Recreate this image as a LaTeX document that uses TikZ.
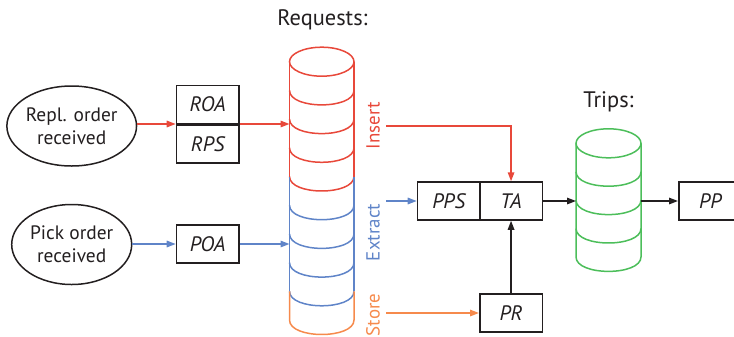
\documentclass[tikz,border=0pt]{standalone}
\usepackage{fontspec}
\setmainfont{PT Sans}
\usetikzlibrary{arrows.meta,shapes.geometric}
\definecolor{cred}{RGB}{232,72,58}
\definecolor{cblue}{RGB}{95,132,200}
\definecolor{corange}{RGB}{246,138,76}
\definecolor{cgreen}{RGB}{76,190,90}
\definecolor{ctext}{RGB}{35,31,32}
\tikzset{
  box/.style={draw=ctext,line width=1.5bp,minimum width=62.6bp,minimum height=38bp,inner sep=0pt,font=\fontsize{21}{22}\selectfont\itshape,text=ctext},
  event/.style={ellipse,draw=ctext,line width=1.5bp,minimum width=120bp,minimum height=80bp,inner sep=0pt,align=center,font=\fontsize{19.5}{23.5}\selectfont,text=ctext},
  conn/.style={line width=1.5bp,-{Triangle[length=9bp,width=6.5bp]}},
  cyl/.style={line width=1.5bp},
  lbl/.style={font=\fontsize{19}{20}\selectfont,rotate=90,inner sep=0pt},
  head/.style={font=\fontsize{22.5}{24}\selectfont,text=ctext,inner sep=0pt}
}
\begin{document}
\begin{tikzpicture}[x=1bp,y=-1bp]
\useasboundingbox (0,0) rectangle (734,336);
\clip (0,0) rectangle (734,336);
% events
\node[event] (repl) at (71.7,126) {Repl. order\\received};
\node[event] (pick) at (71.7,244.5) {Pick order\\received};
% boxes
\node[box,anchor=south west] (roa) at (175.7,124) {ROA};
\node[box,anchor=north west] (rps) at (175.7,124) {RPS};
\node[box,anchor=west] (poa) at (175.7,244) {POA};
\node[box,anchor=west] (pps) at (416.7,201) {PPS};
\node[box,anchor=west] (ta) at (479,201) {TA};
\node[box,anchor=west] (pr) at (479,313) {PR};
\node[box,anchor=west,minimum width=63bp] (pp) at (678,201) {PP};
% headings
\node[head] (reqh) at (322.5,20) {Requests:};
\node[head] (triph) at (608.5,102) {Trips:};
% Requests cylinder
\def\L{289.5}\def\R{354}\def\C{321.75}
\draw[cyl,cred] (\C,61.7) ellipse[x radius=32.25,y radius=14.5];
\draw[cyl,cred] (\L,61.7) -- (\L,176.5) (\R,61.7) -- (\R,176.5);
\foreach \y in {90.4,119.1,147.8,176.5}
  \draw[cyl,cred] (\L,\y) .. controls (\L,\y+19.3) and (\R,\y+19.3) .. (\R,\y);
\draw[cyl,cblue] (\L,176.5) -- (\L,291.3) (\R,176.5) -- (\R,291.3);
\foreach \y in {205.2,233.9,262.6,291.3}
  \draw[cyl,cblue] (\L,\y) .. controls (\L,\y+19.3) and (\R,\y+19.3) .. (\R,\y);
\draw[cyl,corange] (\L,291.3) -- (\L,320) .. controls (\L,339.3) and (\R,339.3) .. (\R,320) -- (\R,291.3);
% Trips cylinder
\def\TL{576}\def\TR{641}\def\TC{608.5}
\draw[cyl,cgreen] (\TC,143.3) ellipse[x radius=32.5,y radius=14.5];
\draw[cyl,cgreen] (\TL,143.3) -- (\TL,256.9) .. controls (\TL,276.2) and (\TR,276.2) .. (\TR,256.9) -- (\TR,143.3);
\foreach \y in {171.7,200.1,228.5}
  \draw[cyl,cgreen] (\TL,\y) .. controls (\TL,\y+19.3) and (\TR,\y+19.3) .. (\TR,\y);
% labels
\node[lbl,text=cred] (ins) at (373,126) {Insert};
\node[lbl,text=cblue] (ext) at (373,232.5) {Extract};
\node[lbl,text=corange] (sto) at (373,315) {Store};
% connector coordinates
\coordinate (reqin1) at (\L,124);
\coordinate (reqin2) at (\L,244);
\coordinate (insout) at (386,126);
\coordinate (extout) at (386,201);
\coordinate (stoout) at (386,313);
\coordinate (tripin) at (\TL,201);
\coordinate (tripout) at (\TR,201);
% connectors
\draw[conn,cred] (repl.east |- reqin1) -- (rps.north west);
\draw[conn,cred] (rps.north east) -- (reqin1);
\draw[conn,cblue] (pick.east |- reqin2) -- (poa.west);
\draw[conn,cblue] (poa.east) -- (reqin2);
\draw[conn,cred] (insout) -| (ta.north);
\draw[conn,cblue] (extout) -- (pps.west);
\draw[conn,corange] (stoout) -- (pr.west);
\draw[conn,ctext] (pr.north) -- (ta.south);
\draw[conn,ctext] (ta.east) -- (tripin);
\draw[conn,ctext] (tripout) -- (pp.west);
\end{tikzpicture}
\end{document}
